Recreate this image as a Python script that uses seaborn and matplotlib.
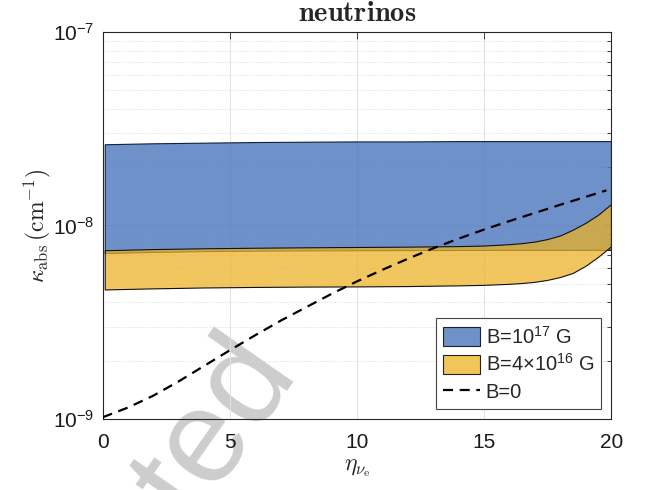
import numpy as np
import pandas as pd
import matplotlib
matplotlib.use('Agg')
import matplotlib.pyplot as plt
import seaborn as sns
from matplotlib.patches import Patch
from matplotlib.lines import Line2D
from matplotlib.ticker import LogLocator, NullFormatter, FixedLocator

# ---------------- data ----------------
eta_band = [0.1, 2, 4, 6, 8, 10, 12, 14, 15, 16, 16.5, 17, 17.5, 18, 18.5, 19, 19.5, 20]
b17_upper = [2.61e-8, 2.64e-8, 2.66e-8, 2.68e-8, 2.69e-8, 2.70e-8, 2.70e-8, 2.71e-8,
             2.71e-8, 2.71e-8, 2.71e-8, 2.71e-8, 2.71e-8, 2.71e-8, 2.71e-8, 2.71e-8,
             2.71e-8, 2.71e-8]
b17_lower = [7.15e-9, 7.25e-9, 7.32e-9, 7.36e-9, 7.38e-9, 7.40e-9, 7.41e-9, 7.42e-9,
             7.42e-9, 7.43e-9, 7.43e-9, 7.43e-9, 7.43e-9, 7.43e-9, 7.43e-9, 7.43e-9,
             7.43e-9, 7.43e-9]
b4_upper = [7.40e-9, 7.50e-9, 7.57e-9, 7.62e-9, 7.66e-9, 7.69e-9, 7.72e-9, 7.77e-9,
            7.82e-9, 7.95e-9, 8.05e-9, 8.20e-9, 8.45e-9, 8.82e-9, 9.45e-9, 10.25e-9,
            11.3e-9, 12.8e-9]
b4_lower = [4.64e-9, 4.70e-9, 4.75e-9, 4.78e-9, 4.80e-9, 4.81e-9, 4.83e-9, 4.87e-9,
            4.90e-9, 4.96e-9, 5.01e-9, 5.08e-9, 5.20e-9, 5.38e-9, 5.65e-9, 6.15e-9,
            6.85e-9, 7.75e-9]

eta_b0 = [0, 1, 2, 3, 4, 5, 6, 7, 8, 9, 10, 11, 12, 13, 14, 15, 16, 17, 18, 19, 19.8]
kappa_b0 = [1.02e-9, 1.146e-9, 1.321e-9, 1.567e-9, 1.884e-9, 2.265e-9, 2.71e-9, 3.22e-9,
            3.78e-9, 4.43e-9, 5.14e-9, 5.90e-9, 6.73e-9, 7.62e-9, 8.55e-9, 9.53e-9,
            10.54e-9, 11.61e-9, 12.8e-9, 14.06e-9, 15.17e-9]

legend_labels = [r'B=10$^{17}$ G', r'B=4$\times$10$^{16}$ G', 'B=0']
x_ticks = [0, 5, 10, 15, 20]
y_ticks = [1e-9, 1e-8, 1e-7]
title_text = r'$\mathbf{neutrinos}$'
xlabel_text = r'$\eta_{\nu_{\mathrm{e}}}$'
ylabel_text = r'$\kappa_{\mathrm{abs}}\,(\mathrm{cm}^{-1})$'
watermark = 'Accepted'

# ---------------- style ----------------
sns.set_theme(style='white')
plt.rcParams['font.family'] = ['Liberation Sans', 'DejaVu Sans']
plt.rcParams['mathtext.fontset'] = 'custom'
plt.rcParams['mathtext.rm'] = 'Liberation Sans'
plt.rcParams['mathtext.it'] = 'Liberation Sans:italic'
plt.rcParams['mathtext.bf'] = 'Liberation Sans:bold'
plt.rcParams['mathtext.sf'] = 'Liberation Sans'

blue_face = '#4A76BD'
yellow_face = '#EDB120'
axcol = '#262626'

fig = plt.figure(figsize=(6.54, 4.90), dpi=100, facecolor='white')
ax = fig.add_axes([0.157, 0.145, 0.778, 0.790])
ax.set_facecolor('none')

fig.text(0.458, 0.238, watermark, rotation=55, rotation_mode='anchor',
         ha='right', va='baseline', fontsize=96, color='#cdcdcd',
         family='Liberation Sans', zorder=-5)

ax.fill_between(eta_band, b17_lower, b17_upper, facecolor=blue_face, alpha=0.8,
                edgecolor='none', zorder=1)
ax.fill_between(eta_band, b17_lower, b17_upper, facecolor='none',
                edgecolor='#102040', linewidth=0.8, zorder=1.5)
ax.fill_between(eta_band, b4_lower, b4_upper, facecolor=yellow_face, alpha=0.72,
                edgecolor='none', zorder=2)
ax.fill_between(eta_band, b4_lower, b4_upper, facecolor='none',
                edgecolor='#111111', linewidth=0.8, zorder=2.5)

df0 = pd.DataFrame({'eta': eta_b0, 'kappa': kappa_b0})
sns.lineplot(data=df0, x='eta', y='kappa', ax=ax, color='black', linewidth=1.6,
             zorder=3, legend=False)
ax.lines[-1].set_dashes([4.5, 3])

ax.set_yscale('log')
ax.set_xlim(0, 20)
ax.set_ylim(1e-9, 1e-7)
ax.xaxis.set_major_locator(FixedLocator(x_ticks))
ax.yaxis.set_major_locator(FixedLocator(y_ticks))
ax.yaxis.set_minor_locator(LogLocator(base=10, subs=np.arange(2, 10)))
ax.yaxis.set_minor_formatter(NullFormatter())

ax.set_axisbelow(True)
ax.grid(True, which='major', color='#e2e2e2', linewidth=0.7, linestyle='-')
ax.grid(True, which='minor', axis='y', color='#d8d8d8', linewidth=0.6, linestyle=':')

ax.tick_params(which='both', direction='in', top=True, right=True,
               colors=axcol, labelcolor='#1a1a1a', width=0.6)
ax.tick_params(which='major', length=5, labelsize=15)
ax.tick_params(which='minor', length=3)
ax.tick_params(axis='x', which='major', pad=10)
ax.tick_params(axis='y', which='major', pad=6)
for s in ax.spines.values():
    s.set_visible(True)
    s.set_color(axcol)
    s.set_linewidth(0.8)

ax.set_title(title_text, fontsize=20.5, math_fontfamily='cm', pad=8)
ax.set_xlabel(xlabel_text, fontsize=17, math_fontfamily='cm', labelpad=4)
ax.set_ylabel(ylabel_text, fontsize=17, math_fontfamily='cm', labelpad=0)

handles = [Patch(facecolor='#6E91CA', edgecolor='#222222', linewidth=0.8),
           Patch(facecolor='#F2C558', edgecolor='#222222', linewidth=0.8),
           Line2D([0], [0], color='black', linewidth=1.6, dashes=[4.5, 3])]
leg = ax.legend(handles, legend_labels, loc='lower right', fontsize=14.5,
                frameon=True, fancybox=False, framealpha=1, edgecolor='#444444',
                handlelength=1.8, handleheight=1.1, handletextpad=0.3,
                borderaxespad=0.5, borderpad=0.35, labelspacing=0.3)
leg.get_frame().set_linewidth(0.8)
leg.set_zorder(5)

fig.savefig('out.png', dpi=100, facecolor='white')
